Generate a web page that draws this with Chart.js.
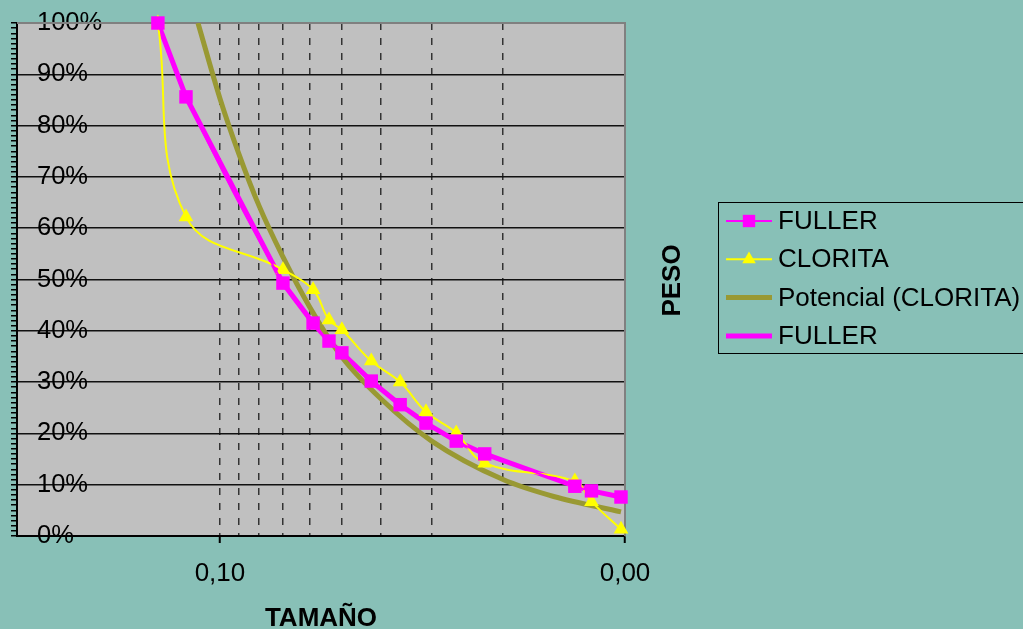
<!DOCTYPE html>
<html>
<head>
<meta charset="utf-8">
<title>Curva granulométrica - FULLER / CLORITA</title>
<script src="https://cdn.jsdelivr.net/npm/chart.js@4.4.1/dist/chart.umd.min.js"></script>
<style>
  html, body { margin: 0; padding: 0; background: #88c0b7; overflow: hidden; }
  #wrap { width: 1023px; height: 629px; }
</style>
</head>
<body>
<div id="wrap"><canvas id="chart-granulo" width="1023" height="629"></canvas></div>
<script>
// Tamaño (eje x log, invertido) y % que pasa
const tamano  = [0.1423, 0.1213, 0.0699, 0.0589, 0.0538, 0.0500, 0.0423, 0.0359, 0.0310, 0.0261, 0.0222, 0.0133, 0.0121, 0.01023];
const fuller  = [100, 85.6, 49.3, 41.5, 38.0, 35.7, 30.2, 25.6, 22.0, 18.5, 16.0, 9.7, 8.8, 7.6];
const clorita = [100, 62.2, 51.9, 48.0, 42.1, 40.2, 34.1, 30.0, 24.2, 20.1, 14.2, 10.7, 6.7, 1.3];

// Línea de tendencia "Potencial (CLORITA)"
const tendX = [0.1133, 0.1, 0.09, 0.08, 0.07, 0.06, 0.05, 0.04, 0.03, 0.02, 0.015, 0.01023];
const tendY = [100, 85.3, 74.7, 64.3, 54.5, 44.6, 34.9, 26.7, 18.5, 11.0, 7.7, 4.7];

// Ejes
const xTickValues  = [0.1, 0.01];
const xTickLabels  = ['0,10', '0,00'];
const xMinorValues = [0.09, 0.08, 0.07, 0.06, 0.05, 0.04, 0.03, 0.02];
const yTickValues  = [0, 10, 20, 30, 40, 50, 60, 70, 80, 90, 100];
const yTickLabels  = ['0%', '10%', '20%', '30%', '40%', '50%', '60%', '70%', '80%', '90%', '100%'];

const FONT = "'Liberation Sans', Arial, sans-serif";
Chart.defaults.font.family = FONT;
Chart.defaults.color = '#000';

const pts = (xs, ys) => xs.map((x, i) => ({ x, y: ys[i] }));

function drawMarker(ctx, style, x, y, r, color) {
  ctx.fillStyle = color;
  ctx.beginPath();
  if (style === 'rect') {
    const s = r * Math.SQRT1_2;
    ctx.rect(x - s, y - s, 2 * s, 2 * s);
  } else if (style === 'triangle') {
    ctx.moveTo(x, y - r);
    ctx.lineTo(x + r * 0.866, y + r / 2);
    ctx.lineTo(x - r * 0.866, y + r / 2);
    ctx.closePath();
  }
  ctx.fill();
}

// fondo gris del área, borde superior/derecho, leyenda y título "PESO"
const excelFrame = {
  id: 'excelFrame',
  beforeDraw(chart) {
    const { ctx, chartArea: a } = chart;
    ctx.save();
    ctx.fillStyle = '#c0c0c0';
    ctx.fillRect(a.left, a.top, a.right - a.left, a.bottom - a.top);
    ctx.restore();
  },
  beforeDatasetsDraw(chart) {
    const { ctx, chartArea: a } = chart;
    ctx.save();
    ctx.strokeStyle = '#808080';
    ctx.lineWidth = 2;
    ctx.beginPath();
    ctx.moveTo(a.left, a.top);
    ctx.lineTo(a.right, a.top);
    ctx.lineTo(a.right, a.bottom);
    ctx.stroke();
    ctx.restore();
  },
  afterDraw(chart) {
    const { ctx, chartArea: a } = chart;
    ctx.save();

    // PESO
    ctx.translate(673, (a.top + a.bottom) / 2 + 1);
    ctx.rotate(-Math.PI / 2);
    ctx.font = 'bold 26px ' + FONT;
    ctx.fillStyle = '#000';
    ctx.textAlign = 'center';
    ctx.textBaseline = 'middle';
    ctx.fillText('PESO', 0, 0);
    ctx.restore();

    // leyenda
    ctx.save();
    ctx.strokeStyle = '#000';
    ctx.lineWidth = 1;
    ctx.strokeRect(718.5, 202.5, 360, 151);
    ctx.font = '26px ' + FONT;
    ctx.textBaseline = 'middle';
    ctx.textAlign = 'left';
    chart.data.datasets.forEach((ds, i) => {
      const y = 221 + i * 38.3;
      ctx.strokeStyle = ds.borderColor;
      ctx.lineWidth = ds.borderWidth;
      ctx.beginPath();
      ctx.moveTo(726, y);
      ctx.lineTo(772, y);
      ctx.stroke();
      if (ds.pointRadius > 0) drawMarker(ctx, ds.pointStyle, 749, y, ds.pointRadius * 0.92, ds.pointBackgroundColor);
      ctx.fillStyle = '#000';
      ctx.fillText(ds.label, 778, y + 1);
    });
    ctx.restore();
  }
};

new Chart(document.getElementById('chart-granulo'), {
  type: 'line',
  data: {
    datasets: [
      {
        label: 'FULLER',
        data: pts(tamano, fuller),
        borderColor: '#ff00ff',
        borderWidth: 2,
        tension: 0.4,
        pointStyle: 'rect',
        pointRadius: 9.5,
        pointBackgroundColor: '#ff00ff',
        pointBorderColor: '#ff00ff',
        pointBorderWidth: 0,
        clip: false
      },
      {
        label: 'CLORITA',
        data: pts(tamano, clorita),
        borderColor: '#ffff00',
        borderWidth: 2,
        tension: 0.4,
        pointStyle: 'triangle',
        pointRadius: 8.5,
        pointBackgroundColor: '#ffff00',
        pointBorderColor: '#ffff00',
        pointBorderWidth: 0,
        clip: false
      },
      {
        label: 'Potencial (CLORITA)',
        data: pts(tendX, tendY),
        borderColor: '#999933',
        borderWidth: 5,
        cubicInterpolationMode: 'monotone',
        pointRadius: 0
      },
      {
        label: 'FULLER',
        data: pts(tamano, fuller),
        borderColor: '#ff00ff',
        borderWidth: 5,
        tension: 0,
        pointRadius: 0
      }
    ]
  },
  options: {
    responsive: false,
    animation: false,
    devicePixelRatio: 1,
    layout: { padding: { top: 23, left: 11, right: 398, bottom: 0 } },
    plugins: { legend: { display: false }, tooltip: { enabled: false } },
    scales: {
      x: {
        type: 'logarithmic',
        reverse: true,
        min: 0.01,
        max: 0.317,
        bounds: 'data',
        afterBuildTicks: (scale) => {
          scale.ticks = [...xTickValues, ...xMinorValues]
            .sort((a, b) => b - a)
            .map(v => ({ value: v }));
        },
        afterFit: (scale) => {
          scale.height = 93;
          scale.paddingLeft = 0;
          scale.paddingRight = 0;
        },
        ticks: {
          autoSkip: false,
          maxRotation: 0,
          padding: 15,
          font: { size: 26 },
          callback: (v) => {
            const i = xTickValues.indexOf(v);
            return i >= 0 ? xTickLabels[i] : '';
          }
        },
        grid: {
          color: (c) => (c.tick && c.tick.value === 0.01) ? 'rgba(0,0,0,0)' : '#333',
          lineWidth: 1.5,
          tickColor: (c) => (c.tick && xTickValues.includes(c.tick.value)) ? '#000' : 'rgba(0,0,0,0)',
          tickLength: 7,
          tickWidth: 2
        },
        border: { color: '#000', width: 2, dash: [7, 8] },
        title: {
          display: true,
          text: 'TAMAÑO',
          font: { size: 26, weight: 'bold', lineHeight: 0.8 },
          padding: { top: 16, bottom: 0 }
        }
      },
      y: {
        min: 0,
        max: 100,
        afterFit: (scale) => {
          scale.width = 6;
          scale.paddingTop = 0;
          scale.paddingBottom = 0;
        },
        ticks: {
          stepSize: 1,
          autoSkip: false,
          mirror: true,
          padding: 20,
          font: { size: 25.5 },
          callback: (v) => {
            const i = yTickValues.indexOf(v);
            return i >= 0 ? yTickLabels[i] : '';
          }
        },
        grid: {
          color: (c) => {
            const v = c.tick ? c.tick.value : -1;
            return (v > 0 && v < 100 && yTickValues.includes(v)) ? '#111' : 'rgba(0,0,0,0)';
          },
          lineWidth: 1.5,
          tickColor: '#000',
          tickLength: 6,
          tickWidth: 1.5
        },
        border: { color: '#000', width: 2 }
      }
    }
  },
  plugins: [excelFrame]
});
</script>
</body>
</html>
